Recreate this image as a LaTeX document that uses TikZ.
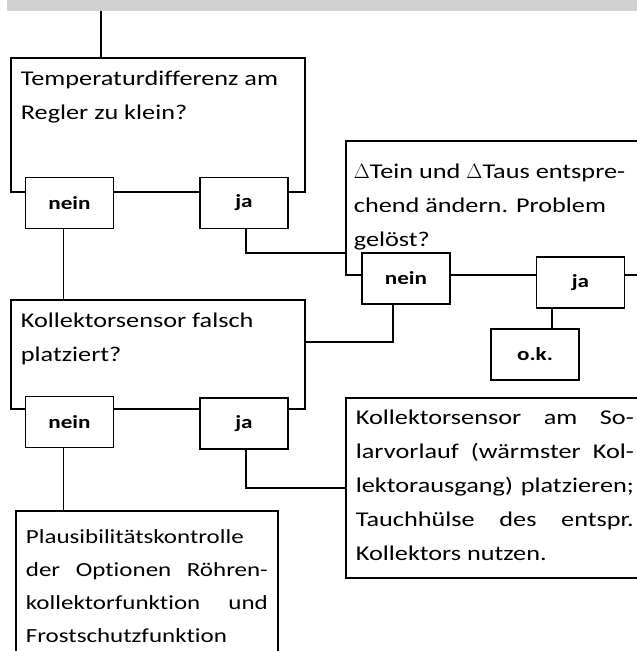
\documentclass[tikz,border=0pt]{standalone}
\usepackage{fontspec}
\setmainfont{Carlito}[FakeStretch=1.25, Ligatures=NoCommon]
\usetikzlibrary{positioning}

% Textkoerper einer Box: Breite, Hoehe, Abstand oben, Text
\newcommand{\boxbody}[4]{%
  \begin{minipage}[c][#2][t]{#1}\vspace*{#3}\strut #4\end{minipage}}

\begin{document}
\begin{tikzpicture}[
        x=1pt, y=-1pt,
        band/.style={fill=black!18, draw=none, minimum width=630pt, minimum height=11pt, inner sep=0pt, anchor=north west},
        qbox/.style={draw, line width=1.8pt, anchor=north west, inner xsep=10pt, inner ysep=0pt, font=\fontsize{21}{34}\selectfont},
        answer/.style={draw, fill=white, line width=1.8pt, minimum width=88pt, minimum height=51pt, inner sep=0pt, font=\fontsize{18.5}{18.5}\selectfont\bfseries},
        link/.style={line width=1.8pt}
    ]
        \useasboundingbox (0,0) rectangle (637,651);
        \clip (0,0) rectangle (637,651);

        % Kopfleiste
        \node[band] (band) at (7,0) {};
        \coordinate (start) at (101,11);

        % Fragen und Massnahmen
        \node[qbox] (q1) at (10,57) {\boxbody{274pt}{134pt}{4pt}{\raggedright Temperaturdifferenz am\\ Regler zu klein?}};
        \node[qbox] (q2) at (10,299) {\boxbody{274pt}{109pt}{4pt}{\raggedright Kollektorsensor falsch\\ platziert?}};
        \node[qbox, inner xsep=8pt] (q3) at (345,140) {\boxbody{284pt}{134pt}{14pt}{\raggedright $\Delta$Tein und $\Delta$Taus entspre-\\ chend ändern. Problem\\ gelöst?}};
        \node[qbox] (fix) at (345,397) {\boxbody{278pt}{180pt}{3pt}{Kollektorsensor am So-\linebreak larvorlauf (wärmster Kol-\linebreak lektorausgang) platzieren;\linebreak Tauchhülse des entspr.\linebreak Kollektors nutzen.}};
        \node[qbox, font=\fontsize{20}{33}\selectfont] (check) at (15,510) {\boxbody{242pt}{170pt}{9pt}{Plausibilitätskontrolle\linebreak der Optionen Röhren-\linebreak kollektorfunktion und\linebreak Frostschutzfunktion}};

        % Antworten
        \node[answer] (n1) at (69.5,203) {nein};
        \node[answer] (j1) at (244,203) {ja};
        \node[answer] (n3) at (406,278.5) {nein};
        \node[answer] (j3) at (580.5,282.5) {ja};
        \node[answer] (ok) at (535,354.5) {o.k.};
        \node[answer] (n2) at (69.5,422) {nein};
        \node[answer] (j2) at (244,423.5) {ja};

        % Verbindungen
        \draw[link] (start) -- (start |- q1.north);
        \draw[link] ([xshift=-6pt]n1.south) -- ([xshift=-6pt]n1.south |- q2.north);
        \draw[link] ([xshift=2pt]j1.south) |- ([yshift=23pt]q3.south west);
        \draw[link] ([xshift=-13pt]n3.south) |- ([yshift=12.5pt]q2.east);
        \draw[link] ([xshift=17pt]ok.north) -- ([xshift=17pt]ok.north |- j3.south);
        \draw[link] ([xshift=-6pt]n2.south) -- ([xshift=-6pt]n2.south |- check.north);
        \draw[link] ([xshift=2pt]j2.south) |- (fix.west);
    \end{tikzpicture}
\end{document}
